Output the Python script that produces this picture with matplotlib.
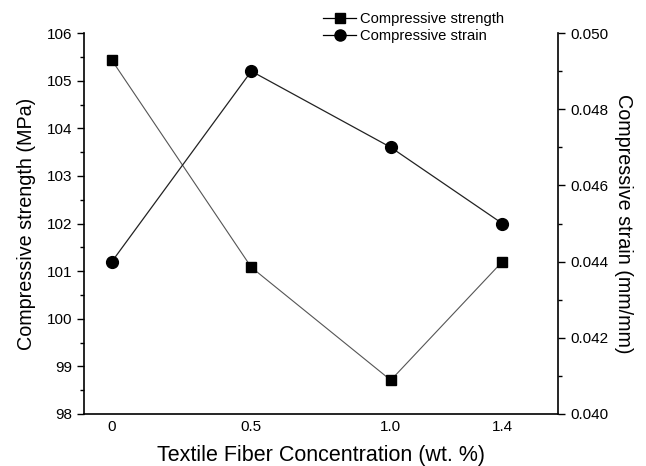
import matplotlib
matplotlib.use("Agg")
import matplotlib.pyplot as plt
from matplotlib.ticker import MultipleLocator
from matplotlib.lines import Line2D

plt.rcParams['font.family'] = ['Liberation Sans', 'DejaVu Sans']

# data
conc = [0, 0.5, 1.0, 1.4]
conc_labels = ['0', '0.5', '1.0', '1.4']
strength = [105.43, 101.08, 98.71, 101.2]
strain = [0.0440, 0.0490, 0.0470, 0.0450]

fig = plt.figure(figsize=(6.46, 4.66), dpi=100)
ax = fig.add_axes([0.130, 0.1116, 0.734, 0.8174])
ax2 = ax.twinx()

ax.plot(conc, strength, color='#555555', lw=0.8, marker='s', ms=7.5,
        mfc='black', mec='black')
ax2.plot(conc, strain, color='#222222', lw=0.9, marker='o', ms=8.5,
         mfc='black', mec='black')

ax.set_xlim(-0.1, 1.6)
ax.set_ylim(98, 106)
ax2.set_ylim(0.040, 0.050)
ax.set_xticks(conc)
ax.set_xticklabels(conc_labels)
ax.yaxis.set_major_locator(MultipleLocator(1))
ax.yaxis.set_minor_locator(MultipleLocator(0.5))
ax2.yaxis.set_major_locator(MultipleLocator(0.002))
ax2.yaxis.set_minor_locator(MultipleLocator(0.001))
ax2.yaxis.set_major_formatter(plt.FormatStrFormatter('%.3f'))

for a in (ax, ax2):
    a.spines['top'].set_visible(False)
    for s in a.spines.values():
        s.set_linewidth(1.2)
ax.spines['right'].set_visible(False)
ax2.spines['left'].set_visible(False)
ax2.spines['bottom'].set_visible(False)

ax.tick_params(axis='x', length=0, labelsize=11, pad=4)
ax.tick_params(axis='y', which='major', length=5, width=1.0, labelsize=11)
ax.tick_params(axis='y', which='minor', length=3, width=1.0)
ax2.tick_params(axis='y', which='major', length=5, width=1.0, labelsize=11)
ax2.tick_params(axis='y', which='minor', length=3, width=1.0)

ax.set_xlabel('Textile Fiber Concentration (wt. %)', fontsize=15.5, labelpad=8)
ax.set_ylabel('Compressive strength (MPa)', fontsize=14.2, labelpad=8)
ax2.set_ylabel('Compressive strain (mm/mm)', fontsize=14.2, rotation=270,
               labelpad=18)

handles = [
    Line2D([], [], color='black', lw=0.9, marker='s', ms=7, mfc='black'),
    Line2D([], [], color='black', lw=0.9, marker='o', ms=8, mfc='black'),
]
fig.legend(handles, ['Compressive strength', 'Compressive strain'],
           loc='upper left', bbox_to_anchor=(0.487, 0.993), frameon=False,
           fontsize=10.6, handlelength=2.2, handletextpad=0.3,
           labelspacing=0.2, borderaxespad=0.2)

fig.savefig('out.png', dpi=100)
